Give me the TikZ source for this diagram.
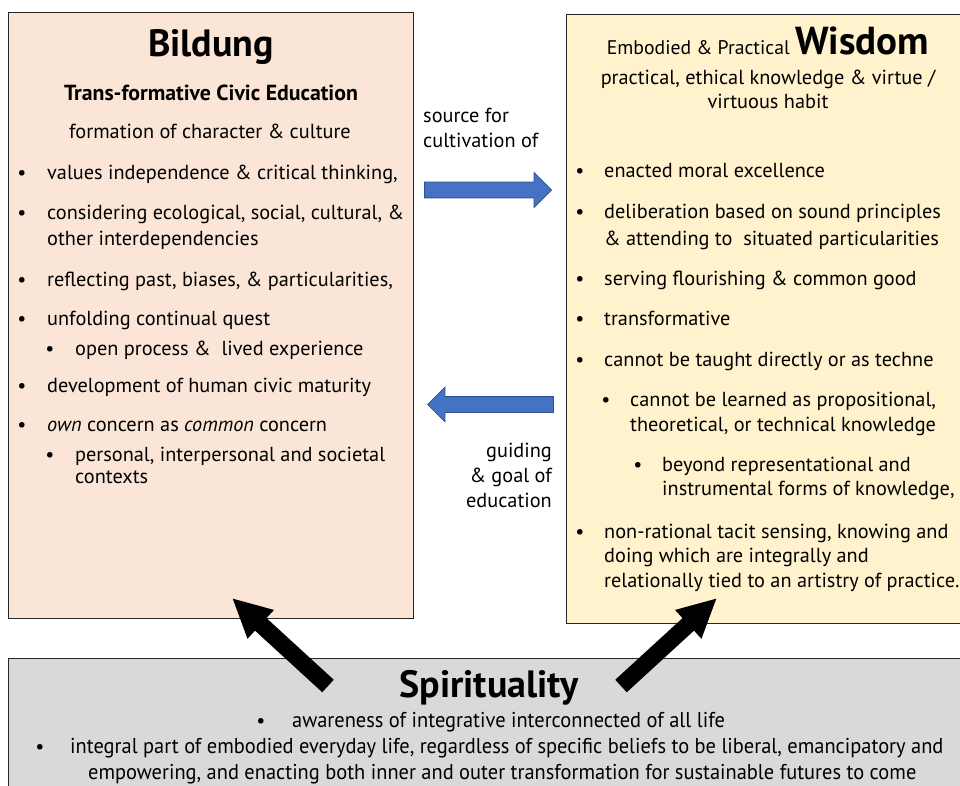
\documentclass[tikz,border=0pt]{standalone}
\usepackage{fontspec}
\setmainfont{PT Sans}
\newfontfamily\narrowfont[FakeStretch=0.95]{PT Sans}
\usepackage{xcolor}
\usetikzlibrary{shapes.arrows,arrows.meta,positioning}

\definecolor{peach}{HTML}{FBE5D6}
\definecolor{cream}{HTML}{FFF2CC}
\definecolor{spiritgray}{HTML}{D9D9D9}
\definecolor{arrowblue}{HTML}{4472C4}
\definecolor{arrowedge}{HTML}{2F528F}

\tikzset{
    panel/.style={draw=black!85, line width=1pt, anchor=north west, inner sep=0pt},
    body/.style={anchor=base west, inner sep=0pt, font=\fontsize{20.3}{24}\selectfont},
    label/.style={inner sep=0pt, font=\fontsize{20.3}{24}\selectfont},
    dot/.style={anchor=base, inner sep=0pt, font=\fontsize{20}{24}\selectfont},
    title/.style={anchor=base, inner sep=0pt, font=\fontsize{38}{42}\selectfont\bfseries},
    bluearrow/.style={single arrow, draw=arrowedge, fill=arrowblue, line width=0.8pt,
        minimum height=127pt, single arrow head extend=9.5pt,
        single arrow head indent=0pt, inner xsep=0pt, inner ysep=7.5pt},
    bigarrow/.style={line width=17pt, draw=black, -{Triangle[length=39pt,width=36pt]}},
}

\begin{document}
\begin{tikzpicture}[x=1pt,y=-1pt]
    \useasboundingbox (0,0) rectangle (960,786);
    \clip (0,0) rectangle (960,786);

    % the three panels
    \node[panel, fill=peach, minimum width=405pt, minimum height=606pt] (bildung) at (8,12) {};
    \node[panel, fill=cream, minimum width=400pt, minimum height=609pt] (wisdom) at (566,14) {};
    \node[panel, fill=spiritgray, minimum width=960pt, minimum height=140pt] (spirit) at (8,658) {};

    % Bildung
    \node[title] (bildtitle) at (211,57) {Bildung};
    \node[label, anchor=base, font=\fontsize{21.8}{24}\selectfont\bfseries] (bildsub) at (211,101) {Trans-formative Civic Education};
    \node[label, anchor=base] (bildform) at (210,139) {formation of character \& culture};

    \foreach \x/\y [count=\i] in {22/180, 22/220, 22/286, 22/325, 50/355, 22/392, 22/431, 50/461}
        \node[dot] (bd\i) at (\x,\y) {\textbullet};

    \foreach \x/\y/\t [count=\i] in {
        47/180/{values independence \& critical thinking,},
        47/220/{considering ecological, social, cultural, \&},
        47/245/{other interdependencies},
        47/286/{reflecting past, biases, \& particularities,},
        47/325/{unfolding continual quest},
        75/355/{open process \&\ \ lived experience},
        47/392/{development of human civic maturity},
        47/431/{\textit{own} concern as \textit{common} concern},
        75/461/{personal, interpersonal and societal},
        75/483/{contexts}}
        \node[body] (bl\i) at (\x,\y) {\t};

    % Wisdom
    \node[label, anchor=base] (wistitle) at (768,55)
        {{\fontsize{19.7}{22}\selectfont Embodied \& Practical} {\fontsize{39}{42}\selectfont\bfseries Wisdom}};
    \node[label, anchor=base] (wissub1) at (768,85) {practical, ethical knowledge \& virtue /};
    \node[label, anchor=base] (wissub2) at (768,109) {virtuous habit};

    \foreach \x/\y [count=\i] in {580/178, 580/219, 580/285, 580/325, 580/366, 606/406, 638/471, 580/538}
        \node[dot] (wd\i) at (\x,\y) {\textbullet};

    \foreach \x/\y/\t [count=\i] in {
        604/178/{enacted moral excellence},
        604/219/{deliberation based on sound principles},
        604/245/{\& attending to\ \ situated particularities},
        604/285/{serving flourishing \& common good},
        604/325/{transformative},
        604/366/{cannot be taught directly or as techne},
        630/406/{cannot be learned as propositional,},
        630/431/{theoretical, or technical knowledge},
        662/471/{beyond representational and},
        662/495/{instrumental forms of knowledge,},
        604/538/{non-rational tacit sensing, knowing and},
        604/562/{doing which are integrally and},
        604/587/{relationally tied to an artistry of practice.}}
        \node[body] (wl\i) at (\x,\y) {\t};

    % links between Bildung and Wisdom
    \node[bluearrow, anchor=tip] (fwd) at (552,190) {};
    \node[bluearrow, anchor=tip, shape border rotate=180, minimum height=126pt] (back) at (427,404.5) {};
    \node[label, anchor=base west] (src1) at (423,123) {source for};
    \node[label, anchor=base west] (src2) at (423,148) {cultivation of};
    \node[label, anchor=base east] (goal1) at (552,457) {guiding};
    \node[label, anchor=base east] (goal2) at (552,482) {\& goal of};
    \node[label, anchor=base east] (goal3) at (552,507) {education};

    % Spirituality
    \node[title] (sptitle) at (489,697) {Spirituality};
    \node[dot] (sd1) at (261,727) {\textbullet};
    \node[dot] (sd2) at (40,753) {\textbullet};
    \node[body, font=\fontsize{21.5}{24}\narrowfont] (sl1) at (292,727)
        {awareness of integrative interconnected of all life};
    \node[body, font=\fontsize{21.5}{24}\narrowfont] (sl2) at (70,753)
        {integral part of embodied everyday life, regardless of specific beliefs to be liberal, emancipatory and};
    \node[body, font=\fontsize{21.5}{24}\narrowfont] (sl3) at (88,779)
        {empowering, and enacting both inner and outer transformation for sustainable futures to come};

    % spirituality feeds both sides
    \coordinate (bildin) at (232,598);
    \coordinate (wisin) at (717,598);
    \coordinate (spleft) at (328,686);
    \coordinate (spright) at (621,686);
    \draw[bigarrow] (spleft) -- (bildin);
    \draw[bigarrow] (spright) -- (wisin);
\end{tikzpicture}
\end{document}
